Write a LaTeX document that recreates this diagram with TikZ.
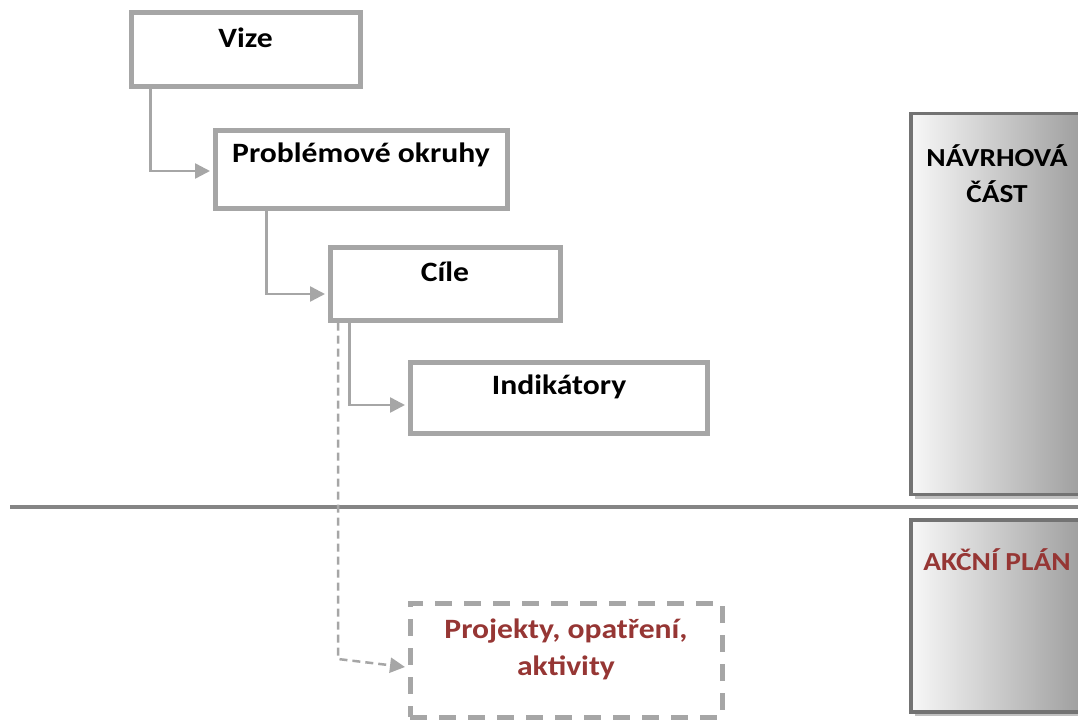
\documentclass[tikz,border=0pt]{standalone}
\usepackage{fontspec}
\setmainfont{Carlito}[FakeStretch=1.13]
\usetikzlibrary{arrows.meta,calc}
\definecolor{boxgray}{HTML}{A6A6A6}
\definecolor{darkred}{RGB}{150,54,52}
\definecolor{sepgray}{HTML}{858585}
\definecolor{rborder}{HTML}{737373}
\definecolor{shadowgray}{HTML}{C0C0C0}
\tikzset{
  box/.style={draw=boxgray, line width=5pt, fill=white, rectangle, inner sep=0pt},
  dbox/.style={draw=boxgray, line width=5pt, dash pattern=on 17pt off 12pt, rectangle, inner sep=0pt},
  lbl/.style={font=\fontsize{28}{37}\selectfont\bfseries, inner sep=0pt, align=center},
  rlbl/.style={font=\fontsize{26}{36}\selectfont\bfseries, inner sep=0pt, align=center},
  conn/.style={draw=boxgray, line width=2.5pt, -{Triangle[length=15pt,width=15pt]}, color=boxgray},
  dconn/.style={draw=boxgray, line width=2.5pt, dash pattern=on 8pt off 5pt, -{Triangle[length=15pt,width=15pt]}, color=boxgray},
  side/.style={draw=rborder, line width=3.5pt, left color=white!97!black, right color=black!38, rectangle, inner sep=0pt},
  shadowbox/.style={fill=shadowgray, draw=none, rectangle, inner sep=0pt},
  sepline/.style={draw=sepgray, line width=3.5pt}
}
\begin{document}
\begin{tikzpicture}[x=1pt,y=-1pt]
\useasboundingbox (0,0) rectangle (1078,720);
% right side panels
\node[shadowbox, minimum width=172, minimum height=381] (s1sh) at (1001,308) {};
\node[side, minimum width=172, minimum height=381] (side1) at (997,304) {};
\node[rlbl] (side1t) at (997,174) {NÁVRHOVÁ\\ČÁST};
\node[shadowbox, minimum width=172, minimum height=192] (s2sh) at (1001,620) {};
\node[side, minimum width=172, minimum height=192] (side2) at (997,616) {};
\node[rlbl, text=darkred] (side2t) at (997,560) {AKČNÍ PLÁN};
% separator
\coordinate (hl1) at (10,507);
\coordinate (hl2) at (1085,507);
\draw[sepline] (hl1) -- (hl2);
% boxes
\node[box, minimum width=229, minimum height=74] (vize) at (245.5,49) {};
\node[lbl] (vizet) at (245.5,38) {Vize};
\node[box, minimum width=292, minimum height=78] (prob) at (361,169) {};
\node[lbl] (probt) at (361,155) {Problémové okruhy};
\node[box, minimum width=230, minimum height=73] (cile) at (445,283.5) {};
\node[lbl] (cilet) at (445,272) {Cíle};
\node[box, minimum width=297, minimum height=71] (ind) at (558.5,397.5) {};
\node[lbl] (indt) at (559,387) {Indikátory};
\node[dbox, minimum width=312, minimum height=114] (proj) at (566,660) {};
\node[lbl, text=darkred] (projt) at (566,649) {Projekty, opatření,\\aktivity};
% connectors
\draw[conn] ($(vize.south west)+(22,0)$) |- ($(prob.west)+(-2.5,2)$);
\draw[conn] ($(prob.south west)+(54,0)$) |- ($(cile.west)+(-2.5,10.5)$);
\draw[conn] ($(cile.south west)+(22,0)$) |- ($(ind.west)+(-2.5,7.5)$);
\coordinate (dbend) at (338,659);
\draw[dconn] (cile.south west -| dbend) -- (dbend) -- ($(proj.west)+(-2.5,7)$);
\end{tikzpicture}
\end{document}
